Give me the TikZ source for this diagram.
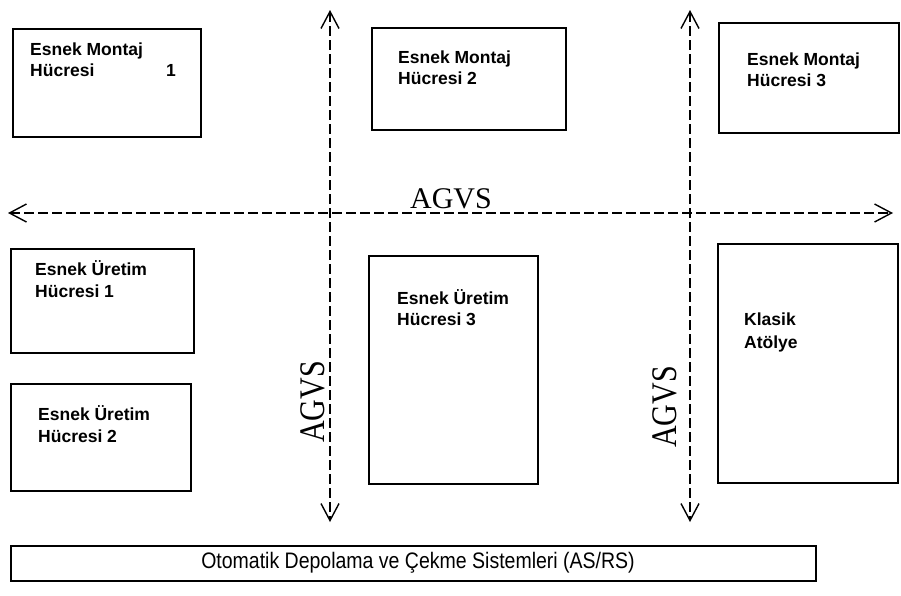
\documentclass[tikz,border=0pt]{standalone}
\usepackage{fontspec}
\setmainfont{Liberation Sans}
\newfontfamily\agvsfont{Liberation Serif}
\usetikzlibrary{arrows.meta}
\begin{document}
\begin{tikzpicture}[x=1pt,y=-1pt,
  cell/.style={draw=black,line width=2pt,anchor=north west,inner sep=0pt},
  lbl/.style={anchor=base west,inner sep=0pt,font=\fontsize{17.5}{20}\selectfont\bfseries},
  barb/.tip={Straight Barb[length=17pt,width=18pt,line width=1.4pt]},
  path/.style={draw=black,line width=1.3pt,dash pattern=on 10pt off 4pt,barb-barb},
  agvs/.style={inner sep=0pt,font=\agvsfont\fontsize{30}{30}\selectfont}]
\useasboundingbox (0,0) rectangle (901,595);

% AGV routes
\coordinate (hL) at (8,213);   \coordinate (hR) at (893,213);
\coordinate (v1T) at (330,10); \coordinate (v1B) at (330,522);
\coordinate (v2T) at (690,10); \coordinate (v2B) at (690,522);
\draw[path] (hL) -- (hR);
\draw[path] (v1T) -- (v1B);
\draw[path] (v2T) -- (v2B);
\node[agvs] (agvsH) at (451,199) {AGVS};
\node[agvs,rotate=90,yscale=1.2] (agvsV1) at (313,402) {AGVS};
\node[agvs,rotate=90,yscale=1.2] (agvsV2) at (665,407) {AGVS};

% Cells
\node[cell,minimum width=188pt,minimum height=108pt] (m1) at (12,28) {};
\node[lbl] (m1a) at (30,55) {Esnek Montaj};
\node[lbl] (m1b) at (30,76) {Hücresi};
\node[lbl] (m1c) at (166,76) {1};

\node[cell,minimum width=194pt,minimum height=102pt] (m2) at (371,27) {};
\node[lbl] (m2a) at (398,63) {Esnek Montaj};
\node[lbl] (m2b) at (398,84) {Hücresi 2};

\node[cell,minimum width=180pt,minimum height=110pt] (m3) at (718,22) {};
\node[lbl] (m3a) at (747,65) {Esnek Montaj};
\node[lbl] (m3b) at (747,86) {Hücresi 3};

\node[cell,minimum width=183pt,minimum height=104pt] (u1) at (10,248) {};
\node[lbl] (u1a) at (35,275) {Esnek Üretim};
\node[lbl] (u1b) at (35,297) {Hücresi 1};

\node[cell,minimum width=180pt,minimum height=107pt] (u2) at (10,383) {};
\node[lbl] (u2a) at (38,420) {Esnek Üretim};
\node[lbl] (u2b) at (38,442) {Hücresi 2};

\node[cell,minimum width=169pt,minimum height=228pt] (u3) at (368,255) {};
\node[lbl] (u3a) at (397,304) {Esnek Üretim};
\node[lbl] (u3b) at (397,325) {Hücresi 3};

\node[cell,minimum width=180pt,minimum height=239pt] (ka) at (717,243) {};
\node[lbl] (kaa) at (744,325) {Klasik};
\node[lbl] (kab) at (744,348) {Atölye};

% Storage system
\node[cell,minimum width=805pt,minimum height=35pt,line width=1.6pt] (asrs) at (10,545) {};
\node[inner sep=0pt,yscale=1.15,font=\fontsize{19.5}{20}\selectfont] (asrst) at (418,563) {Otomatik Depolama ve Çekme Sistemleri (AS/RS)};
\end{tikzpicture}
\end{document}
